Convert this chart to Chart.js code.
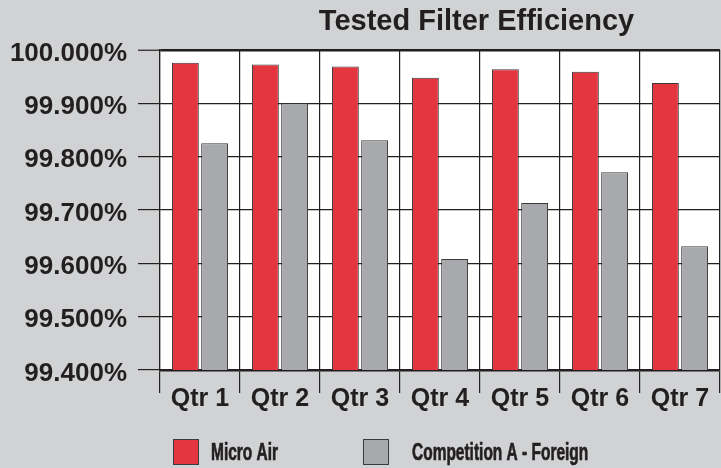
<!DOCTYPE html>
<html>
<head>
<meta charset="utf-8">
<script src="https://cdn.jsdelivr.net/npm/chart.js@4"></script>
<style>
  html, body { margin: 0; padding: 0; background: #d1d2d4; }
  #wrap { width: 721px; height: 468px; }
</style>
</head>
<body>
<div id="wrap"><canvas id="c" width="721" height="468"></canvas></div>
<script>
const categories = ['Qtr 1', 'Qtr 2', 'Qtr 3', 'Qtr 4', 'Qtr 5', 'Qtr 6', 'Qtr 7'];
const microAir = [99.976, 99.973, 99.969, 99.948, 99.964, 99.959, 99.938];
const competitionA = [99.825, 99.900, 99.831, 99.608, 99.713, 99.771, 99.632];
const seriesNames = ['Micro Air', 'Competition A - Foreign'];
const titleText = 'Tested Filter Efficiency';
const yMin = 99.4, yMax = 100.0, yStep = 0.1;

const INK = '#231f20';
const RED = '#e3363f';
const GREY = '#a8a9ad';

const bgPlugin = {
  id: 'bg',
  beforeDraw(chart) {
    const { ctx, chartArea: a } = chart;
    ctx.save();
    ctx.fillStyle = '#d1d2d4';
    ctx.fillRect(0, 0, chart.width, chart.height);
    ctx.fillStyle = '#ffffff';
    ctx.fillRect(a.left, a.top, a.right - a.left, a.bottom - a.top);
    ctx.restore();
  }
};

const titleShift = {
  id: 'titleShift',
  afterLayout(chart) {
    const t = chart.titleBlock;
    if (t) { t.left = chart.chartArea.left + 72; t.right = chart.width; }
  }
};

// legend layout: box offsets and text offsets from chart area left
const legendBoxX = [13, 203];
const legendTextX = [51, 252];

const legendPlugin = {
  id: 'customLegend',
  afterDraw(chart) {
    const { ctx, chartArea: a } = chart;
    chart.data.datasets.forEach((ds, i) => {
      const x = a.left + legendBoxX[i];
      const y = a.bottom + 69;
      ctx.save();
      ctx.fillStyle = ds.backgroundColor;
      ctx.fillRect(x, y, 26, 26);
      ctx.strokeStyle = '#3b3b3b';
      ctx.lineWidth = 1;
      ctx.strokeRect(x + 0.5, y + 0.5, 25, 25);
      ctx.fillStyle = INK;
      ctx.strokeStyle = INK;
      ctx.lineWidth = 0.7;
      ctx.font = 'bold 24px "Liberation Sans", Arial, sans-serif';
      ctx.textBaseline = 'middle';
      ctx.translate(a.left + legendTextX[i], y + 14);
      ctx.scale(0.645, 1);
      ctx.fillText(ds.label, 0, 0);
      ctx.strokeText(ds.label, 0, 0);
      ctx.restore();
    });
  }
};

new Chart(document.getElementById('c'), {
  type: 'bar',
  data: {
    labels: categories,
    datasets: [
      { label: seriesNames[0], data: microAir, backgroundColor: RED, borderColor: '#3b3b3b', borderWidth: 1 },
      { label: seriesNames[1], data: competitionA, backgroundColor: GREY, borderColor: '#3b3b3b', borderWidth: 1 }
    ]
  },
  options: {
    responsive: false,
    animation: false,
    devicePixelRatio: 1,
    layout: { padding: { left: 0, right: 1, top: 0, bottom: 0 } },
    datasets: { bar: { categoryPercentage: 0.73, barPercentage: 0.92 } },
    plugins: {
      legend: { display: false },
      tooltip: { enabled: false },
      title: {
        display: true,
        text: titleText,
        color: INK,
        font: { family: '"Liberation Sans", Arial, sans-serif', size: 29, weight: 'bold' },
        padding: { top: 5, bottom: 10.2 }
      }
    },
    scales: {
      x: {
        offset: true,
        afterFit(s) { s.height = 98; },
        grid: {
          offset: true,
          color: INK,
          lineWidth: (c) => (c.index === categories.length ? 2.5 : 1.2),
          tickLength: 23,
          tickWidth: 1.2,
          drawTicks: true
        },
        border: { color: INK, width: 2.5 },
        ticks: {
          color: INK,
          padding: -9,
          font: { family: '"Liberation Sans", Arial, sans-serif', size: 25, weight: 'bold' }
        }
      },
      y: {
        min: yMin,
        max: yMax,
        afterFit(s) { s.width = 160; },
        grid: {
          color: INK,
          lineWidth: (c) => (c.index === 6 ? 2.5 : 1.2),
          tickLength: 22,
          tickWidth: 1.2,
          drawTicks: true
        },
        border: { color: INK, width: 1.2 },
        ticks: {
          stepSize: yStep,
          color: INK,
          padding: 11,
          font: { family: '"Liberation Sans", Arial, sans-serif', size: 26, weight: 'bold', lineHeight: '7px' },
          callback: (v) => ['', Number(v).toFixed(3) + '%']
        }
      }
    }
  },
  plugins: [bgPlugin, titleShift, legendPlugin]
});
</script>
</body>
</html>
